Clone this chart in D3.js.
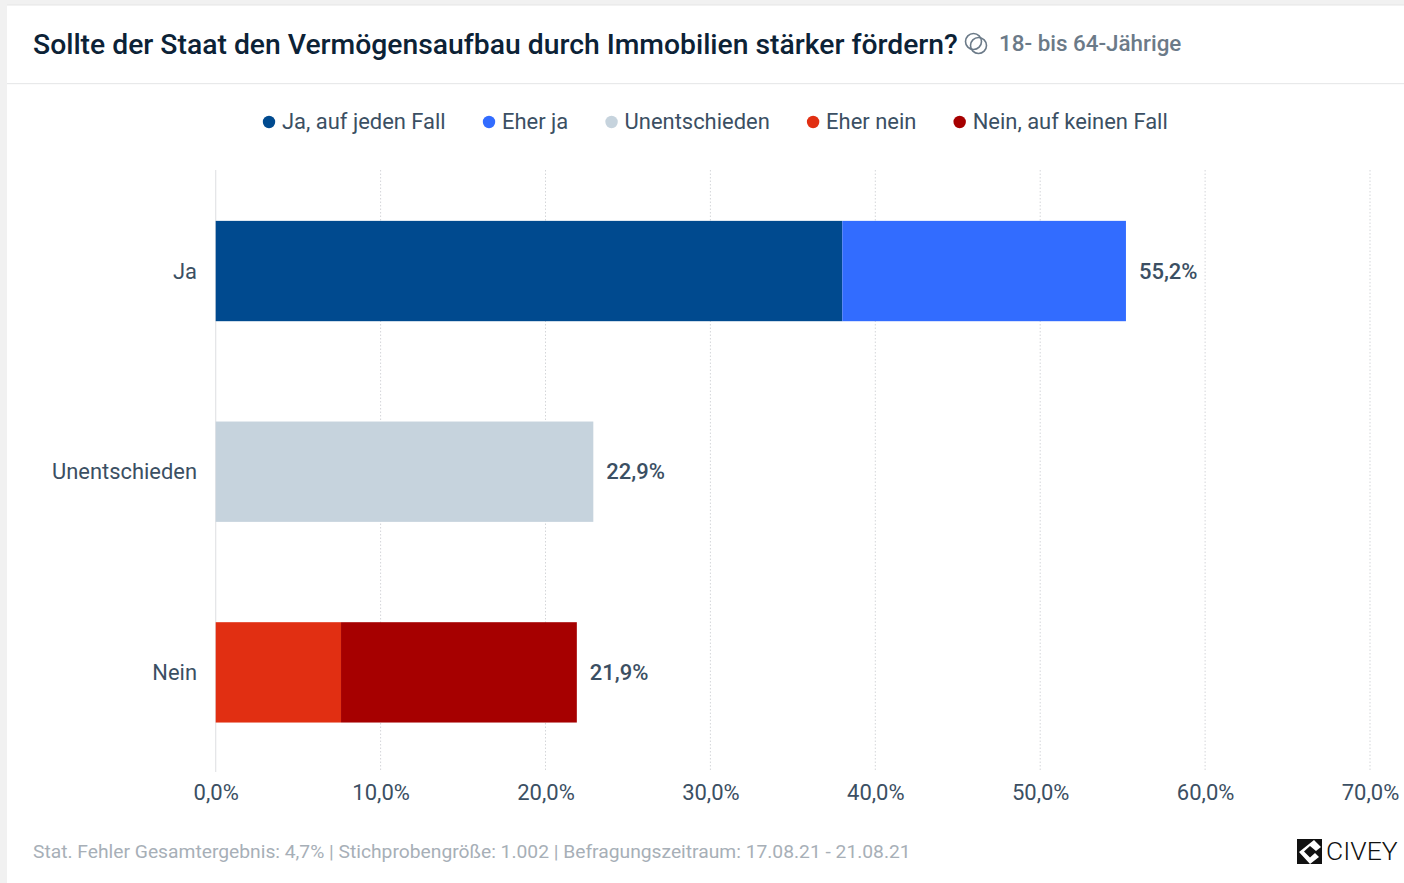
<!DOCTYPE html>
<html lang="de">
<head>
<meta charset="utf-8">
<script src="https://cdn.jsdelivr.net/npm/d3@7/dist/d3.min.js"></script>
<style>
html,body{margin:0;padding:0;background:#f1f1f1;overflow:hidden}
svg{display:block;font-family:Roboto,sans-serif}
</style>
</head>
<body>
<svg id="chart" width="1404" height="883"></svg>
<script>
const categories = ["Ja", "Unentschieden", "Nein"];
const seriesNames = ["Ja, auf jeden Fall", "Eher ja", "Unentschieden", "Eher nein", "Nein, auf keinen Fall"];
const seriesColors = ["#004a8f", "#326cff", "#c6d3dd", "#e12f12", "#a60000"];
const jaAufJedenFall = [38.0, 0, 0];
const eherJa = [17.2, 0, 0];
const unentschieden = [0, 22.9, 0];
const eherNein = [0, 0, 7.6];
const neinAufKeinenFall = [0, 0, 14.3];
const totalLabels = ["55,2%", "22,9%", "21,9%"];
const tickValues = [0, 10, 20, 30, 40, 50, 60, 70];
const titleText = "Sollte der Staat den Vermögensaufbau durch Immobilien stärker fördern?";
const subtitleText = "18- bis 64-Jährige";
const footerText = "Stat. Fehler Gesamtergebnis: 4,7% | Stichprobengröße: 1.002 | Befragungszeitraum: 17.08.21 - 21.08.21";
const logoText = "CIVEY";

const svg = d3.select("#chart");
const allSeries = [jaAufJedenFall, eherJa, unentschieden, eherNein, neinAufKeinenFall];
const rows = categories.map((c, i) => {
  const o = {category: c};
  seriesNames.forEach((n, j) => o[n] = allSeries[j][i]);
  return o;
});

// card
svg.append("rect").attr("x", 7).attr("y", 5).attr("width", 1397).attr("height", 878).attr("fill", "#fff");
svg.append("rect").attr("x", 7).attr("y", 4.5).attr("width", 1397).attr("height", 1).attr("fill", "#e6e6e6");
svg.append("rect").attr("x", 7).attr("y", 83).attr("width", 1397).attr("height", 1.2).attr("fill", "#e8e9ea");

// header
svg.append("text").attr("x", 33).attr("y", 54).attr("font-size", 28.3).attr("font-weight", 500)
  .attr("fill", "#0c2236").text(titleText);
const icon = svg.append("g").attr("fill", "none").attr("stroke", "#6b7a88").attr("stroke-width", 1.6);
icon.append("circle").attr("cx", 973.5).attr("cy", 41.5).attr("r", 8);
icon.append("circle").attr("cx", 978.5).attr("cy", 45.5).attr("r", 8);
svg.append("text").attr("x", 999).attr("y", 51).attr("font-size", 22.4).attr("font-weight", 500)
  .attr("fill", "#6b7a88").text(subtitleText);

// scales
const x = d3.scaleLinear().domain([0, 70]).range([215.7, 1370]);
const y = d3.scaleBand().domain(categories).range([170.7, 772.7]).paddingInner(0.5).paddingOuter(0.25);

// grid and x axis
const xAxis = d3.axisBottom(x).tickValues(tickValues).tickSize(0).tickPadding(12)
  .tickFormat(d => d.toFixed(1).replace(".", ",") + "%");
const gx = svg.append("g").attr("transform", "translate(0,772)").call(xAxis);
gx.select(".domain").remove();
gx.selectAll("text").attr("font-size", 22).attr("fill", "#3b4f63").attr("font-family", "Roboto");
svg.append("g").selectAll("line").data(tickValues).join("line")
  .attr("x1", d => x(d)).attr("x2", d => x(d)).attr("y1", 170).attr("y2", 772)
  .attr("stroke", d => d === 0 ? "#e3e4e6" : "#d4d6d9")
  .attr("stroke-width", d => d === 0 ? 1.2 : 1)
  .attr("stroke-dasharray", d => d === 0 ? null : "1.5,2");

// bars
const stacked = d3.stack().keys(seriesNames)(rows);
svg.append("g").selectAll("g").data(stacked).join("g")
  .attr("fill", (d, i) => seriesColors[i])
  .selectAll("rect").data(d => d.filter(p => p[1] > p[0])).join("rect")
  .attr("x", d => x(d[0]))
  .attr("y", d => y(d.data.category))
  .attr("width", d => x(d[1]) - x(d[0]))
  .attr("height", y.bandwidth());

// y axis labels
const gy = svg.append("g").attr("transform", "translate(197,0.5)")
  .call(d3.axisLeft(y).tickSize(0).tickPadding(0));
gy.select(".domain").remove();
gy.selectAll("text").attr("font-size", 21.9).attr("fill", "#3b4f63").attr("font-family", "Roboto");

// totals
svg.append("g").selectAll("text").data(rows).join("text")
  .attr("x", d => x(d3.sum(seriesNames, n => d[n])) + 13)
  .attr("y", d => y(d.category) + y.bandwidth() / 2)
  .attr("dy", "0.35em").attr("font-size", 22).attr("font-weight", 500)
  .attr("fill", "#3b4f63").text((d, i) => totalLabels[i]);

// legend
let lx = 263;
const legend = svg.append("g");
seriesNames.forEach((n, i) => {
  legend.append("circle").attr("cx", lx + 6).attr("cy", 122).attr("r", 6.2).attr("fill", seriesColors[i]);
  const t = legend.append("text").attr("x", lx + 19).attr("y", 128.6).attr("font-size", 21.95)
    .attr("fill", "#3b4f63").text(n);
  lx += 19 + t.node().getComputedTextLength() + 37.3;
});

// footer
svg.append("text").attr("x", 33).attr("y", 858).attr("font-size", 19.25)
  .attr("fill", "#a7afb7").text(footerText);

// logo
const logo = svg.append("g").attr("transform", "translate(1297,839)");
logo.append("rect").attr("width", 25).attr("height", 25).attr("fill", "#111");
logo.append("path").attr("d", "M17 1 L24 8 L19 12 L13 7 L7 12.5 L13 18.5 L18 14 L22 18 L13 25 L2 13 Z").attr("fill", "#fff");
svg.append("text").attr("x", 1326).attr("y", 860).attr("font-size", 26.5).attr("font-weight", 300)
  .attr("fill", "#111").text(logoText);
</script>
</body>
</html>
